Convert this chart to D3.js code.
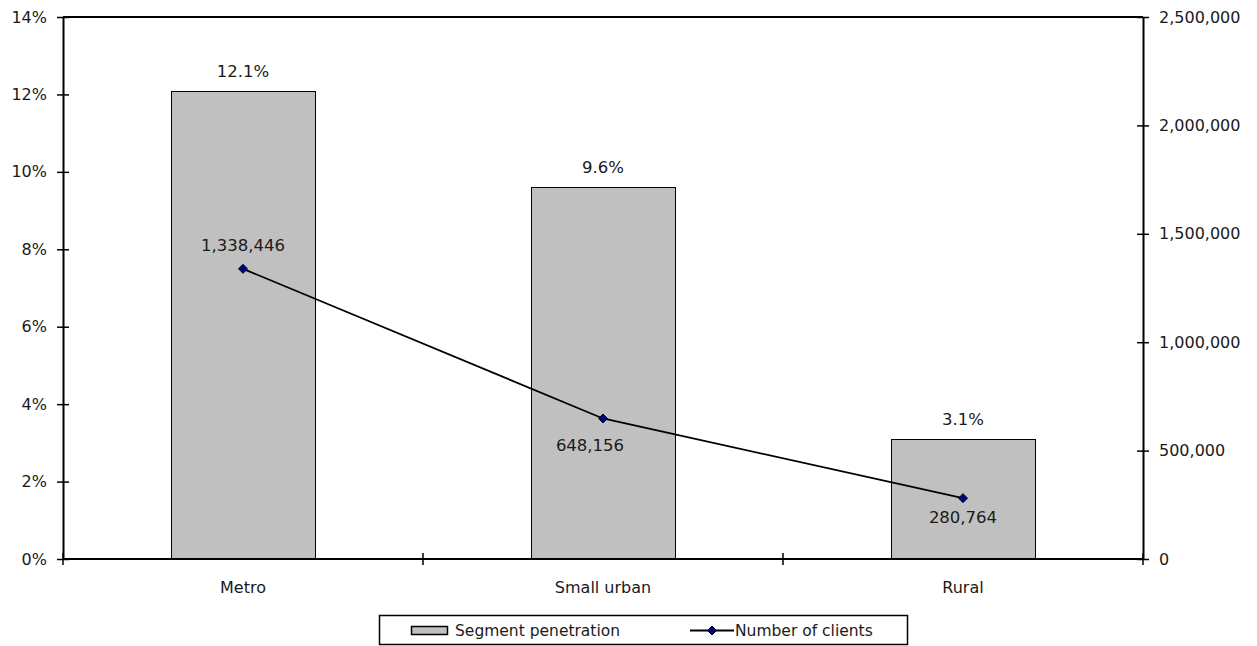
<!DOCTYPE html>
<html>
<head>
<meta charset="utf-8">
<script src="https://cdn.jsdelivr.net/npm/d3@7"></script>
<style>
  html, body { margin: 0; padding: 0; background: #fff; }
  svg { display: block; }
  text { font-family: "DejaVu Sans", sans-serif; font-size: 16px; fill: #1a1a1a; }
  text.num { font-size: 16.5px; }
  text.leg { font-size: 15.5px; }
</style>
</head>
<body>
<svg id="chart" width="1257" height="646"></svg>
<script>
// Segment data
const categories = ["Metro", "Small urban", "Rural"];
const penetration = [0.121, 0.096, 0.031];          // bar series (left axis)
const clients = [1338446, 648156, 280764];          // line series (right axis)
const clientLabelSide = ["above", "below", "below"];
const leftTicks = [0, 0.02, 0.04, 0.06, 0.08, 0.10, 0.12, 0.14];
const rightTicks = [0, 500000, 1000000, 1500000, 2000000, 2500000];
const seriesNames = ["Segment penetration", "Number of clients"];

const svg = d3.select("#chart");
const plot = { left: 63, right: 1143, top: 17, bottom: 559 };

const x = d3.scaleBand().domain(categories).range([plot.left, plot.right]).paddingInner(0.6).paddingOuter(0.3);
const xBand = d3.scaleBand().domain(categories).range([plot.left, plot.right]);
const yL = d3.scaleLinear().domain([0, 0.14]).range([plot.bottom, plot.top]);
const yR = d3.scaleLinear().domain([0, 2500000]).range([plot.bottom, plot.top]);

const pctFmt = d3.format(".0%");
const numFmt = d3.format(",");

// bars
svg.append("g").selectAll("rect").data(categories).join("rect")
  .attr("x", (d) => Math.round(x(d)) + 0.5)
  .attr("y", (d, i) => Math.round(yL(penetration[i])) + 0.5)
  .attr("width", Math.round(x.bandwidth()))
  .attr("height", (d, i) => Math.round(yL(0)) - Math.round(yL(penetration[i])))
  .attr("fill", "#c0c0c0")
  .attr("stroke", "#000")
  .attr("stroke-width", 1);

// bar value labels
svg.append("g").selectAll("text").data(categories).join("text")
  .attr("class", "num")
  .attr("x", (d) => xBand(d) + xBand.bandwidth() / 2)
  .attr("y", (d, i) => yL(penetration[i]) - 14)
  .attr("text-anchor", "middle")
  .text((d, i) => d3.format(".1%")(penetration[i]));

// plot frame (top edge)
svg.append("line")
  .attr("x1", plot.left).attr("x2", plot.right)
  .attr("y1", plot.top).attr("y2", plot.top)
  .attr("stroke", "#000").attr("stroke-width", 2);

// left axis
const leftAxis = svg.append("g").attr("transform", `translate(${plot.left},0)`)
  .call(d3.axisLeft(yL).tickValues(leftTicks).tickFormat(pctFmt).tickSizeInner(6).tickSizeOuter(0).tickPadding(10));
leftAxis.selectAll(".tick line").attr("x1", 6).attr("x2", -6).attr("stroke-width", 1.5);
leftAxis.select(".domain").attr("stroke-width", 2);

// right axis
const rightAxis = svg.append("g").attr("transform", `translate(${plot.right},0)`)
  .call(d3.axisRight(yR).tickValues(rightTicks).tickFormat(numFmt).tickSizeInner(6).tickSizeOuter(0).tickPadding(10));
rightAxis.selectAll(".tick line").attr("x1", -6).attr("x2", 6).attr("stroke-width", 1.5);
rightAxis.select(".domain").attr("stroke-width", 2);

// bottom axis: labels at centers, ticks at band boundaries
const bottom = svg.append("g").attr("transform", `translate(0,${plot.bottom})`);
bottom.append("line").attr("x1", plot.left).attr("x2", plot.right)
  .attr("stroke", "#000").attr("stroke-width", 2);
const boundaries = categories.map((d) => xBand(d)).concat([plot.right]);
bottom.selectAll("line.tk").data(boundaries).join("line").attr("class", "tk")
  .attr("x1", (d) => d).attr("x2", (d) => d).attr("y1", -6).attr("y2", 6)
  .attr("stroke", "#000").attr("stroke-width", 1.5);
bottom.selectAll("text").data(categories).join("text")
  .attr("x", (d) => xBand(d) + xBand.bandwidth() / 2)
  .attr("y", 34)
  .attr("text-anchor", "middle")
  .text((d) => d);

svg.selectAll(".tick text")
  .style("font-family", "DejaVu Sans, sans-serif")
  .style("font-size", "16px")
  .attr("fill", "#1a1a1a");

// line series
const cx = (i) => xBand(categories[i]) + xBand.bandwidth() / 2;
const line = d3.line().x((d, i) => cx(i)).y((d) => yR(d));
svg.append("path").datum(clients).attr("d", line)
  .attr("fill", "none").attr("stroke", "#000").attr("stroke-width", 1.8);

const diamond = (s) => `M0,${-s}L${s},0L0,${s}L${-s},0Z`;
svg.append("g").selectAll("path").data(clients).join("path")
  .attr("transform", (d, i) => `translate(${cx(i)},${yR(d)})`)
  .attr("d", diamond(4.5))
  .attr("fill", "#000080").attr("stroke", "#000").attr("stroke-width", 1);

svg.append("g").selectAll("text").data(clients).join("text")
  .attr("class", "num")
  .attr("x", (d, i) => cx(i) + (i === 1 ? -13 : 0))
  .attr("y", (d, i) => yR(d) + (clientLabelSide[i] === "above" ? -18 : (i === 1 ? 33 : 25)))
  .attr("text-anchor", "middle")
  .text((d) => numFmt(d));

// legend
const lg = svg.append("g");
lg.append("rect").attr("x", 379.5).attr("y", 615.5).attr("width", 528).attr("height", 29)
  .attr("fill", "#fff").attr("stroke", "#000").attr("stroke-width", 1.5);
lg.append("rect").attr("x", 411.5).attr("y", 626.5).attr("width", 36).attr("height", 8)
  .attr("fill", "#c0c0c0").attr("stroke", "#000").attr("stroke-width", 1.5);
lg.append("text").attr("class", "leg").attr("x", 455).attr("y", 636).text(seriesNames[0]);
lg.append("line").attr("x1", 690).attr("x2", 734).attr("y1", 630.5).attr("y2", 630.5)
  .attr("stroke", "#000").attr("stroke-width", 1.8);
lg.append("path").attr("transform", "translate(712,630.5)").attr("d", diamond(4.5))
  .attr("fill", "#000080").attr("stroke", "#000").attr("stroke-width", 1);
lg.append("text").attr("class", "leg").attr("x", 735).attr("y", 636).text(seriesNames[1]);
</script>
</body>
</html>
